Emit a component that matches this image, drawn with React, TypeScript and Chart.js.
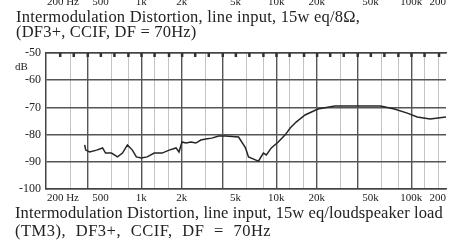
import React, { useEffect, useRef } from "react";
import { Chart, registerables } from "chart.js";

Chart.register(...registerables);

// ---- data ----
const FREQ_HZ = [
  381, 388, 415, 467, 517, 544, 602, 667, 726, 790,
  860, 920, 1001, 1108, 1247, 1428, 1608, 1810, 1904, 2004,
  2144, 2333, 2539, 2764, 3008, 3330, 3749, 4220, 5260, 5922,
  6230, 7013, 7380, 8030, 8450, 9196, 10350, 11660, 12690, 14040,
  16350, 20370, 27170, 35630, 59220, 75060, 93540, 110800, 138000, 181000,
];
const IMD_DB = [
  -83.8, -85.7, -86.4, -85.7, -84.9, -86.8, -86.8, -88.2, -86.8, -83.8,
  -85.7, -88.2, -88.6, -88.2, -86.8, -86.8, -85.7, -84.9, -86.4, -82.7,
  -83.1, -82.7, -83.1, -82.0, -81.6, -81.3, -80.5, -80.5, -80.9, -84.9,
  -88.2, -89.3, -89.8, -86.8, -87.5, -84.9, -82.7, -80.1, -77.6, -75.4,
  -72.8, -70.6, -69.5, -69.5, -69.5, -70.6, -72.1, -73.5, -74.3, -73.5,
];

const X_MIN = 197;
const X_MAX = 181000;
const X_TICK_VALUES = [200, 500, 1000, 2000, 5000, 10000, 20000, 50000, 100000, 181000];
const X_TICK_LABELS = ["200 Hz", "500", "1k", "2k", "5k", "10k", "20k", "50k", "100k", "200"];
const Y_MIN = -100;
const Y_MAX = -50;
const Y_STEP = 10;
const MAJOR_GRID_HZ = [400, 1000, 2000, 4000, 10000, 20000, 40000, 100000];
const MINOR_GRID_HZ = [300, 600, 800, 1250, 1600, 3000, 6000, 8000, 12500, 16000, 30000, 60000, 80000, 125000, 160000];
const THIRD_OCTAVE_HZ = [
  250, 315, 400, 500, 630, 800, 1000, 1250, 1600, 2000, 2500, 3150, 4000, 5000,
  6300, 8000, 10000, 12500, 16000, 20000, 25000, 31500, 40000, 50000, 63000,
  80000, 100000, 125000, 160000,
];
const TITLE_LINES = [
  "Intermodulation Distortion, line input, 15w eq/8\u03a9,",
  "(DF3+, CCIF, DF = 70Hz)",
];
const CAPTION_LINES = [
  "Intermodulation Distortion, line input, 15w eq/loudspeaker load",
  "(TM3), DF3+, CCIF, DF = 70Hz",
];
const Y_UNIT = "dB";

const SERIF = "'Liberation Serif', 'Times New Roman', serif";
const INK = "#222";

const decorPlugin = {
  id: "decor",
  afterDraw(chart: any) {
    const xs = chart.scales.x;
    const ctx = chart.ctx;
    const top = chart.chartArea.top;
    ctx.save();
    ctx.fillStyle = "#333";
    THIRD_OCTAVE_HZ.forEach((f) => {
      const px = xs.getPixelForValue(f);
      ctx.fillRect(px - 1, top, 2.5, 4);
    });
    // cut-off labels of the chart above
    ctx.font = `11px ${SERIF}`;
    ctx.fillStyle = INK;
    ctx.textBaseline = "alphabetic";
    X_TICK_VALUES.forEach((v, i) => {
      const px = xs.getPixelForValue(v);
      ctx.textAlign = i === 0 ? "left" : i === X_TICK_VALUES.length - 1 ? "right" : "center";
      ctx.fillText(X_TICK_LABELS[i], px, 5);
    });
    ctx.restore();
  },
};

export default function App() {
  const ref = useRef<HTMLCanvasElement | null>(null);

  useEffect(() => {
    if (!ref.current) return;
    const majorSet = new Set(MAJOR_GRID_HZ);
    const chart = new Chart(ref.current, {
      type: "line",
      data: {
        datasets: [
          {
            data: FREQ_HZ.map((f, i) => ({ x: f, y: IMD_DB[i] })),
            borderColor: "#262626",
            borderWidth: 1.5,
            pointRadius: 0,
            tension: 0,
            fill: false,
          },
        ],
      },
      options: {
        animation: false,
        responsive: false,
        events: [],
        layout: { padding: { top: 53, bottom: 38, left: 0, right: 0 } },
        plugins: { legend: { display: false }, tooltip: { enabled: false } },
        scales: {
          x: {
            type: "logarithmic",
            position: "bottom",
            min: X_MIN,
            max: X_MAX,
            afterBuildTicks: (s: any) => {
              s.ticks = X_TICK_VALUES.map((v) => ({ value: v }));
            },
            afterFit: (s: any) => {
              s.height = 16;
            },
            grid: { display: false, drawTicks: false },
            border: { display: true, color: "#444", width: 1.5 },
            ticks: {
              autoSkip: false,
              maxRotation: 0,
              align: "inner",
              padding: 3,
              color: INK,
              font: { family: SERIF, size: 11 },
              callback: (_v: any, i: number) => X_TICK_LABELS[i],
            },
          },
          xg: {
            type: "logarithmic",
            position: "top",
            min: X_MIN,
            max: X_MAX,
            afterBuildTicks: (s: any) => {
              s.ticks = [...MAJOR_GRID_HZ, ...MINOR_GRID_HZ]
                .sort((a, b) => a - b)
                .map((v) => ({ value: v }));
            },
            afterFit: (s: any) => {
              s.height = 0;
            },
            grid: {
              drawTicks: false,
              color: (c: any) => (majorSet.has(c.tick?.value) ? "#555" : "#c4c4c4"),
              lineWidth: (c: any) => (majorSet.has(c.tick?.value) ? 1.4 : 1),
            },
            border: { display: true, color: "#444", width: 1.5 },
            ticks: { display: false },
          },
          y: {
            type: "linear",
            min: Y_MIN,
            max: Y_MAX,
            afterFit: (s: any) => {
              s.width = 46;
            },
            grid: { drawTicks: false, color: "#555", lineWidth: 1.4 },
            border: { display: true, color: "#444", width: 1.5 },
            ticks: {
              stepSize: Y_STEP,
              padding: 5,
              color: INK,
              font: { family: SERIF, size: 12 },
              callback: (v: any) => String(v),
            },
          },
        },
      },
      plugins: [decorPlugin],
    } as any);
    return () => chart.destroy();
  }, []);

  const text: React.CSSProperties = {
    position: "absolute",
    left: 16,
    fontFamily: SERIF,
    fontSize: 16.5,
    color: INK,
    whiteSpace: "pre",
    lineHeight: "18px",
    letterSpacing: "0.2px",
  };

  return (
    <div
      style={{
        position: "fixed",
        left: 0,
        top: 0,
        width: 449,
        height: 243,
        background: "#fff",
        overflow: "hidden",
      }}
    >
      <canvas ref={ref} width={449} height={243} style={{ display: "block", position: "absolute", left: 0, top: 0 }} />
      <div style={{ ...text, top: 7.5 }}>{TITLE_LINES[0]}</div>
      <div style={{ ...text, top: 23 }}>{TITLE_LINES[1]}</div>
      <div style={{ ...text, left: 15, top: 60, fontSize: 11, lineHeight: "12px", letterSpacing: 0 }}>{Y_UNIT}</div>
      <div style={{ ...text, left: 15, top: 203.5, letterSpacing: "0.1px" }}>{CAPTION_LINES[0]}</div>
      <div style={{ ...text, left: 15, top: 221.5, letterSpacing: "0.5px", wordSpacing: "5px" }}>{CAPTION_LINES[1]}</div>
    </div>
  );
}
